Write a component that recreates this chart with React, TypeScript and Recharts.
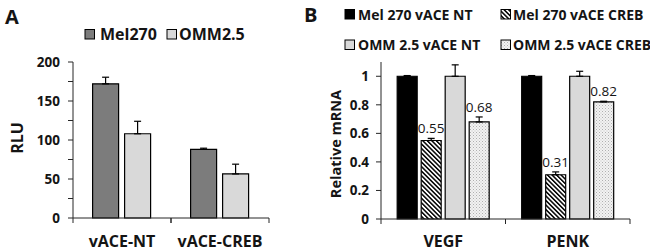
import { Bar, BarChart, ErrorBar, LabelList, XAxis, YAxis } from "recharts";

// panel A: luciferase
const groupsA = ["vACE-NT", "vACE-CREB"];
const mel270 = [172, 88];
const mel270Err = [8.5, 1.5];
const omm25 = [108, 56.5];
const omm25Err = [16, 12.5];
const ticksA = [0, 25, 50, 75, 100, 125, 150, 175, 200];

// panel B: relative mRNA
const genesB = ["VEGF", "PENK"];
const melNT = [1, 1];
const melNTErr = [0.005, 0.005];
const melCREB = [0.55, 0.31];
const melCREBErr = [0.015, 0.02];
const ommNT = [1, 1];
const ommNTErr = [0.08, 0.035];
const ommCREB = [0.68, 0.82];
const ommCREBErr = [0.035, 0.005];
const ticksB = [0, 0.2, 0.4, 0.6, 0.8, 1];

const dataA = groupsA.map((group, i) => ({
  group,
  mel270: mel270[i],
  mel270Err: [0, mel270Err[i]],
  omm25: omm25[i],
  omm25Err: [0, omm25Err[i]],
}));

const dataB = genesB.map((gene, i) => ({
  gene,
  melNT: melNT[i],
  melNTErr: [0, melNTErr[i]],
  melCREB: melCREB[i],
  melCREBErr: [0, melCREBErr[i]],
  ommNT: ommNT[i],
  ommNTErr: [0, ommNTErr[i]],
  ommCREB: ommCREB[i],
  ommCREBErr: [0, ommCREBErr[i]],
}));

const INK = "#141414";
const AXIS = "#262626";
const DARK_GRAY = "#7c7c7c";
const LIGHT_GRAY = "#d9d9d9";
const FONT = '"Open Sans", sans-serif';

function Patterns({ suffix }: { suffix: string }) {
  return (
    <defs>
      <pattern
        id={`hatch${suffix}`}
        width={3.2}
        height={3.2}
        patternUnits="userSpaceOnUse"
        patternTransform="rotate(-45)"
      >
        <rect width={3.2} height={3.2} fill="#fff" />
        <rect width={1.5} height={3.2} fill="#000" />
      </pattern>
      <pattern id={`dots${suffix}`} width={3} height={3} patternUnits="userSpaceOnUse">
        <rect width={3} height={3} fill="#f2f2f2" />
        <rect x={0} y={0} width={1} height={1} fill="#b0b0b0" />
        <rect x={1.5} y={1.5} width={1} height={1} fill="#c4c4c4" />
      </pattern>
    </defs>
  );
}

// category label plus the Excel-style tick marks at both edges of the band
function CategoryTick({ x, y, payload, dy, width, visibleTicksCount, plotWidth }: any) {
  const axisWidth = typeof width === "number" && width > 0 ? width : plotWidth;
  const half = axisWidth / (visibleTicksCount || 1) / 2;
  return (
    <g>
      <line x1={x - half} x2={x - half} y1={y} y2={y + 5} stroke={AXIS} />
      <line x1={x + half} x2={x + half} y1={y} y2={y + 5} stroke={AXIS} />
      <text x={x} y={y} dy={dy} textAnchor="middle" fontFamily={FONT} fontWeight={700} fontSize={16} fill={INK}>
        {payload.value}
      </text>
    </g>
  );
}

function ValueTick({ x, y, payload, show, format }: any) {
  if (!show(payload.value)) return <g />;
  return (
    <text x={x} y={y} dy="0.355em" textAnchor="end" fontFamily={FONT} fontWeight={700} fontSize={13.5} fill={INK}>
      {format(payload.value)}
    </text>
  );
}

function valueLabel(errs: number[]) {
  return (props: any) => {
    const { x, y, width, height, value, index } = props;
    const errPx = (Number(height) / Number(value)) * errs[index];
    return (
      <text
        x={Number(x) + Number(width) / 2}
        y={Number(y) - errPx - 5}
        textAnchor="middle"
        fontFamily={FONT}
        fontSize={13.5}
        fill={INK}
      >
        {Number(value).toFixed(2)}
      </text>
    );
  };
}

const errProps = { width: 3.5, strokeWidth: 1.2, stroke: "#000" };

export default function App() {
  return (
    <div style={{ position: "absolute", left: 0, top: 0, width: 650, height: 252, background: "#fff" }}>
      <div style={{ position: "absolute", left: 0, top: 0 }}>
        <BarChart
          width={300}
          height={252}
          data={dataA}
          margin={{ top: 62, right: 31, bottom: 4, left: 23 }}
          barCategoryGap="20%"
          barGap={6}
        >
          <XAxis
            dataKey="group"
            height={30}
            axisLine={{ stroke: AXIS }}
            tickLine={false}
            tickSize={0}
            tickMargin={0}
            interval={0}
            tick={(p: any) => <CategoryTick {...p} dy={28.5} plotWidth={196} />}
          />
          <YAxis
            width={50}
            domain={[0, 200]}
            ticks={ticksA}
            interval={0}
            tickSize={5}
            tickMargin={8}
            axisLine={{ stroke: AXIS }}
            tickLine={{ stroke: AXIS }}
            tick={(p: any) => <ValueTick {...p} show={(v: number) => v % 50 === 0} format={(v: number) => String(v)} />}
          />
          <Bar dataKey="mel270" fill={DARK_GRAY} stroke="#000" strokeWidth={1.2} isAnimationActive={false}>
            <ErrorBar dataKey="mel270Err" {...errProps} />
          </Bar>
          <Bar dataKey="omm25" fill={LIGHT_GRAY} stroke="#000" strokeWidth={1.2} isAnimationActive={false}>
            <ErrorBar dataKey="omm25Err" {...errProps} />
          </Bar>
        </BarChart>
      </div>

      <div style={{ position: "absolute", left: 290, top: 0 }}>
        <BarChart
          width={360}
          height={252}
          data={dataB}
          margin={{ top: 62, right: 20, bottom: 3, left: 51 }}
          barCategoryGap="13%"
          barGap={4}
        >
          <Patterns suffix="B" />
          <XAxis
            dataKey="gene"
            height={30}
            axisLine={{ stroke: AXIS }}
            tickLine={false}
            tickSize={0}
            tickMargin={0}
            interval={0}
            tick={(p: any) => <CategoryTick {...p} dy={27.5} plotWidth={249} />}
          />
          <YAxis
            width={40}
            domain={[0, 1.1]}
            ticks={ticksB}
            interval={0}
            tickSize={5}
            tickMargin={7}
            axisLine={{ stroke: AXIS }}
            tickLine={{ stroke: AXIS }}
            tick={(p: any) => (
              <ValueTick
                {...p}
                show={() => true}
                format={(v: number) => (v === 0 || v === 1 ? String(v) : v.toFixed(1))}
              />
            )}
          />
          <Bar dataKey="melNT" fill="#000" stroke="#000" strokeWidth={1.2} isAnimationActive={false}>
            <ErrorBar dataKey="melNTErr" {...errProps} />
          </Bar>
          <Bar dataKey="melCREB" fill="url(#hatchB)" stroke="#000" strokeWidth={1.2} isAnimationActive={false}>
            <ErrorBar dataKey="melCREBErr" {...errProps} />
            <LabelList dataKey="melCREB" content={valueLabel(melCREBErr)} />
          </Bar>
          <Bar dataKey="ommNT" fill={LIGHT_GRAY} stroke="#000" strokeWidth={1.2} isAnimationActive={false}>
            <ErrorBar dataKey="ommNTErr" {...errProps} />
          </Bar>
          <Bar dataKey="ommCREB" fill="url(#dotsB)" stroke="#000" strokeWidth={1.2} isAnimationActive={false}>
            <ErrorBar dataKey="ommCREBErr" {...errProps} />
            <LabelList dataKey="ommCREB" content={valueLabel(ommCREBErr)} />
          </Bar>
        </BarChart>
      </div>

      <svg
        width={650}
        height={252}
        style={{ position: "absolute", left: 0, top: 0, pointerEvents: "none" }}
        fontFamily={FONT}
        fontWeight={700}
        fill={INK}
      >
        <Patterns suffix="Lg" />
        <text x={5} y={24} fontSize={20}>A</text>
        <text x={304} y={22} fontSize={20}>B</text>

        <rect x={85} y={29.5} width={9.5} height={9.5} fill={DARK_GRAY} stroke="#000" strokeWidth={1} />
        <text x={100} y={40} fontSize={16}>Mel270</text>
        <rect x={167} y={29.5} width={9.5} height={9.5} fill={LIGHT_GRAY} stroke="#000" strokeWidth={1} />
        <text x={179} y={40} fontSize={16}>OMM2.5</text>

        <rect x={345} y={9.5} width={9.5} height={9.5} fill="#000" stroke="#000" strokeWidth={1} />
        <text x={358} y={19.5} fontSize={14}>Mel 270 vACE NT</text>
        <rect x={501} y={9.5} width={9.5} height={9.5} fill="url(#hatchLg)" stroke="#000" strokeWidth={1} />
        <text x={513} y={19.5} fontSize={14}>Mel 270 vACE CREB</text>
        <rect x={345} y={40} width={9.5} height={9.5} fill={LIGHT_GRAY} stroke="#000" strokeWidth={1} />
        <text x={358} y={50} fontSize={14}>OMM 2.5 vACE NT</text>
        <rect x={501} y={40} width={9.5} height={9.5} fill="url(#dotsLg)" stroke="#000" strokeWidth={1} />
        <text x={513} y={50} fontSize={14}>OMM 2.5 vACE CREB</text>

        <text x={22.5} y={138} fontSize={16} textAnchor="middle" transform="rotate(-90 22.5 138)">RLU</text>
        <text x={341} y={144} fontSize={14.5} textAnchor="middle" transform="rotate(-90 341 144)">
          Relative mRNA
        </text>
      </svg>
    </div>
  );
}
